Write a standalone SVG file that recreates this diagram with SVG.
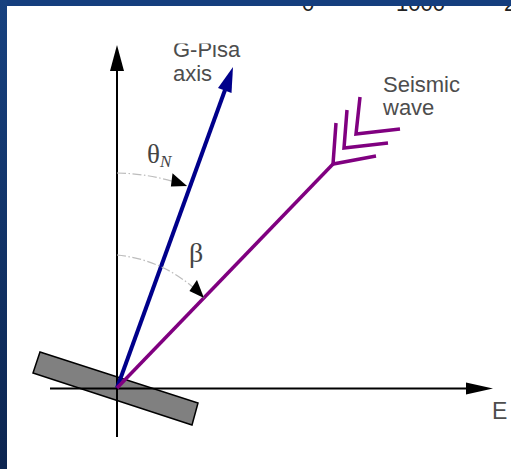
<svg xmlns="http://www.w3.org/2000/svg" width="511" height="469" viewBox="0 0 511 469">
  <defs>
    <linearGradient id="frameGrad" x1="0" y1="0" x2="0" y2="1">
      <stop offset="0" stop-color="#17417f"/>
      <stop offset="1" stop-color="#0c2550"/>
    </linearGradient>
    <marker id="arcHead" viewBox="-20 -8 22 16" markerWidth="22" markerHeight="16" refX="0" refY="0" orient="auto" markerUnits="userSpaceOnUse">
      <path d="M0,0 L-18,-7 L-15,6 Z" fill="#000"/>
    </marker>
    <style>
      .label { font-family: "Liberation Sans", Arial, sans-serif; font-size: 22px; fill: #4d4d4d; }
      .greek { font-family: "Liberation Serif", "DejaVu Serif", serif; fill: #444; }
      .axis { stroke: #000; stroke-width: 2; fill: none; }
      .arc { stroke: #bdbdbd; stroke-width: 1.2; fill: none; stroke-dasharray: 9 2.5 1.5 2.5; }
      .wave { stroke: #800080; stroke-width: 3.5; fill: none; stroke-linecap: butt; stroke-linejoin: miter; }
    </style>
  </defs>

  <!-- frame -->
  <rect x="0" y="0" width="511" height="469" fill="url(#frameGrad)"/>
  <rect x="7" y="6" width="504" height="463" fill="#fff"/>

  <!-- scale numbers, cut off by the top edge as in the picture -->
  <g id="topNumbers" class="label" style="fill:#222">
    <text x="302" y="10.5">0</text>
    <text x="396" y="10.5">1000</text>
    <text x="504" y="10.5">2</text>
  </g>
  <rect x="0" y="0" width="511" height="6" fill="#153e7e"/>
  <rect x="0" y="0" width="7" height="469" fill="url(#frameGrad)"/>

  <!-- tilted tower base -->
  <g id="tower">
    <polygon points="40,352 198,403 192,425 33,373" fill="#808080" stroke="#000" stroke-width="1.5"/>
  </g>

  <g id="connectors">
    <!-- axes -->
    <line class="axis" x1="117" y1="437" x2="117" y2="70"/>
    <polygon points="117,45 110,71 124,71" fill="#000"/>
    <line class="axis" x1="50" y1="388.5" x2="467" y2="388.5"/>
    <polygon points="493,388.5 466,382.5 466,394.5" fill="#000"/>

    <!-- G-Pisa axis -->
    <line x1="117" y1="388" x2="225" y2="90" stroke="#00008b" stroke-width="4"/>
    <polygon points="233,67 218,88 231.5,93" fill="#00008b"/>

    <!-- seismic wave -->
    <line class="wave" x1="117" y1="388" x2="333" y2="164"/>
    <polyline class="wave" points="336,123 333,164 376,156"/>
    <polyline class="wave" points="347,110 344,148 388,143"/>
    <polyline class="wave" points="360,97 356,134 400,129"/>

    <!-- angle arcs -->
    <path class="arc" d="M117,173 A214,214 0 0 1 187,186" marker-end="url(#arcHead)"/>
    <path class="arc" d="M117,255 A135,135 0 0 1 204,298" marker-end="url(#arcHead)"/>
  </g>

  <!-- labels -->
  <g id="label-gpisa" class="label">
    <text x="173" y="57">G-Pisa</text>
    <text x="173" y="81">axis</text>
  </g>
  <rect x="150" y="12" width="110" height="31.5" fill="#fff"/>
  <g id="label-seismic" class="label">
    <text x="383" y="92">Seismic</text>
    <text x="383" y="115">wave</text>
  </g>
  <g id="label-E" class="label">
    <text x="492" y="419" style="font-size:23px">E</text>
  </g>
  <g id="label-thetaN" class="greek">
    <text x="147" y="163" style="font-size:27px">θ<tspan dy="4" style="font-size:17px;font-style:italic">N</tspan></text>
  </g>
  <g id="label-beta" class="greek">
    <text x="189" y="262" style="font-size:28px">β</text>
  </g>
</svg>
